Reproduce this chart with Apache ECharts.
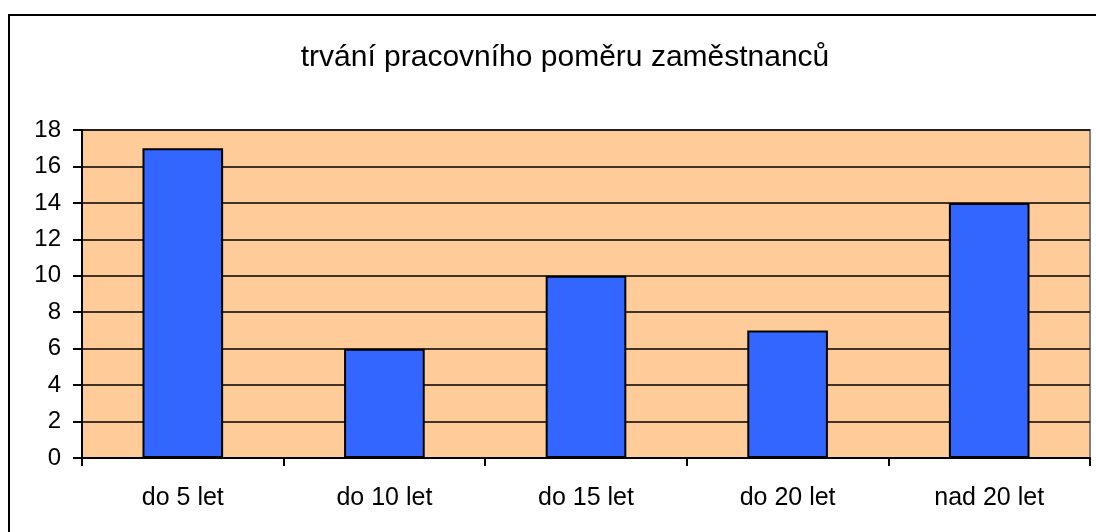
<!DOCTYPE html>
<html><head><meta charset="utf-8">
<script src="https://cdn.jsdelivr.net/npm/echarts@6/dist/echarts.min.js"></script>
<style>html,body{margin:0;padding:0;background:#fff}#c{width:1096px;height:532px}</style>
</head><body><div id="c"></div>
<script>
const titleText = 'trvání pracovního poměru zaměstnanců';
const categories = ['do 5 let', 'do 10 let', 'do 15 let', 'do 20 let', 'nad 20 let'];
const values = [17, 6, 10, 7, 14];
const yMin = 0, yMax = 18, yStep = 2;

const chart = echarts.init(document.getElementById('c'), null, {renderer: 'canvas'});
const font = '"Liberation Sans", Arial, sans-serif';
chart.setOption({
  animation: false,
  backgroundColor: '#fff',
  title: {
    text: titleText, left: 560, top: 38, textAlign: 'center',
    textStyle: {fontFamily: font, fontSize: 30, fontWeight: 'normal', color: '#000'}
  },
  graphic: [{
    type: 'rect', z: 100, silent: true,
    shape: {x: 9, y: 15, width: 1200, height: 600},
    style: {fill: 'none', stroke: '#000', lineWidth: 2}
  }],
  grid: {
    left: 82, top: 130, right: 6, bottom: 74,
    show: true, backgroundColor: '#FFCC99', borderColor: '#808080', borderWidth: 2
  },
  xAxis: {
    type: 'category', data: categories,
    axisLine: {show: true, lineStyle: {color: '#000', width: 2}},
    axisTick: {show: true, length: 8, inside: false, alignWithLabel: false, lineStyle: {color: '#000', width: 2}},
    axisLabel: {margin: 28, fontFamily: font, fontSize: 25, color: '#000'},
    splitLine: {show: false}
  },
  yAxis: {
    type: 'value', min: yMin, max: yMax, interval: yStep,
    axisLine: {show: true, lineStyle: {color: '#000', width: 2}},
    axisTick: {show: true, length: 9, lineStyle: {color: '#000', width: 2}},
    axisLabel: {margin: 21, fontFamily: font, fontSize: 24, color: '#000'},
    splitLine: {show: true, lineStyle: {color: '#000', width: 1.5}}
  },
  series: [{
    type: 'bar', data: values, barWidth: '40%',
    itemStyle: {color: '#3366FF', borderColor: '#000', borderWidth: 2}
  }]
});
</script></body></html>
